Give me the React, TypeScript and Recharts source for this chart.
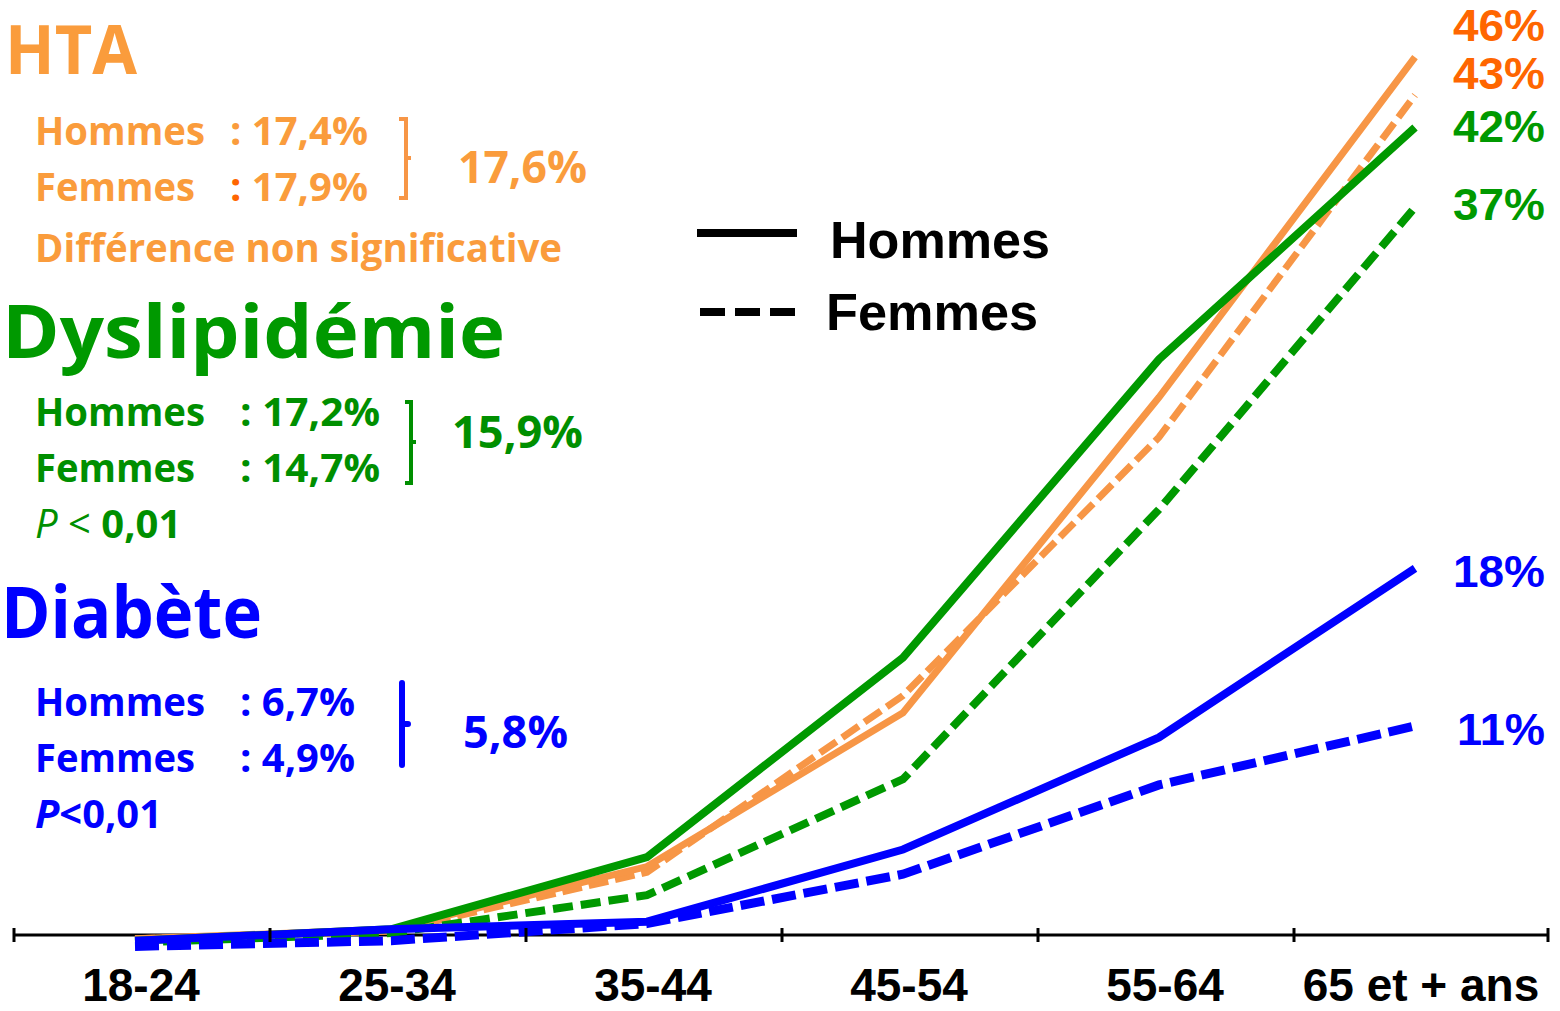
import React from "react";
import { LineChart, Line, XAxis, YAxis, ReferenceLine } from "recharts";

// age groups and prevalences
const AGES = ["18-24", "25-34", "35-44", "45-54", "55-64", "65 et + ans"];
const HTA_HOMMES = [-0.2, 0.3, 3.6, 11.7, 28.3, 46.2];
const HTA_FEMMES = [-0.2, 0.2, 3.3, 12.6, 26.2, 44.2];
const DYS_HOMMES = [-0.3, 0.3, 4.1, 14.6, 30.3, 42.5];
const DYS_FEMMES = [-0.4, 0.1, 2.1, 8.2, 22.4, 38.3];
const DIA_HOMMES = [-0.3, 0.3, 0.7, 4.5, 10.4, 19.3];
const DIA_FEMMES = [-0.6, -0.3, 0.6, 3.2, 7.9, 11.0];

const ORANGE = "#F79646";
const ORANGE_TXT = "#FA9C3C";
const ORANGE_DARK = "#FF6600";
const GREEN = "#009900";
const GREEN_TXT = "#008F00";
const BLUE = "#0000FF";

const CAL = "'Open Sans', 'Noto Sans', sans-serif";
const ARIAL = "'Liberation Sans', Arial, sans-serif";

const PAD_LEFT = 121;
const PAD_RIGHT = 133;

const data = AGES.map((age, i) => ({
  age,
  htaH: HTA_HOMMES[i],
  htaF: HTA_FEMMES[i],
  dysH: DYS_HOMMES[i],
  dysF: DYS_FEMMES[i],
  diaH: DIA_HOMMES[i],
  diaF: DIA_FEMMES[i],
}));

function AgeTick(props: any) {
  const { x, y, payload, index } = props;
  const last = index === AGES.length - 1;
  return (
    <g>
      <line x1={x - PAD_LEFT} x2={x - PAD_LEFT} y1={y - 34} y2={y - 20} stroke="#000" strokeWidth={3} />
      {last && (
        <line x1={x + PAD_RIGHT} x2={x + PAD_RIGHT} y1={y - 34} y2={y - 20} stroke="#000" strokeWidth={3} />
      )}
      <text
        x={x + 6}
        y={y + 39}
        textAnchor="middle"
        fontFamily={ARIAL}
        fontWeight="bold"
        fontSize={46}
        fill="#000"
      >
        {payload.value}
      </text>
    </g>
  );
}

function T(p: any) {
  const { x, y, len, size, color, children, weight = "bold", family = CAL, style } = p;
  return (
    <text
      x={x}
      y={y}
      fontFamily={family}
      fontWeight={weight}
      fontSize={size}
      fill={color}
      textLength={len}
      lengthAdjust={len ? "spacingAndGlyphs" : undefined}
      fontStyle={style}
    >
      {children}
    </text>
  );
}

function Notes() {
  return (
    <svg
      width={1560}
      height={1011}
      style={{ position: "absolute", left: 0, top: 0, pointerEvents: "none" }}
    >
      {/* HTA */}
      <T x={5} y={74} len={132} size={68} color={ORANGE_TXT}>HTA</T>
      <T x={35} y={145} len={170} size={40} color={ORANGE_TXT}>Hommes</T>
      <T x={230} y={145} len={138} size={40} color={ORANGE_TXT}>: 17,4%</T>
      <T x={35} y={201} len={160} size={40} color={ORANGE_TXT}>Femmes</T>
      <text x={230} y={201} fontFamily={CAL} fontWeight="bold" fontSize={40} fill={ORANGE_TXT} textLength={138} lengthAdjust="spacingAndGlyphs">
        <tspan fill={ORANGE_DARK}>:</tspan> 17,9%
      </text>
      <path d="M399 119 H406 V198 H399 M406 158 H411" stroke={ORANGE} strokeWidth={4} fill="none" />
      <T x={458} y={183} len={129} size={45} color={ORANGE_TXT}>17,6%</T>
      <T x={35} y={262} len={527} size={40} color={ORANGE_TXT}>Différence non significative</T>

      {/* Dyslipidémie */}
      <T x={2} y={358} len={503} size={74} color={GREEN}>Dyslipidémie</T>
      <T x={35} y={426} len={170} size={40} color={GREEN_TXT}>Hommes</T>
      <T x={240} y={426} len={140} size={40} color={GREEN_TXT}>: 17,2%</T>
      <T x={35} y={482} len={160} size={40} color={GREEN_TXT}>Femmes</T>
      <T x={240} y={482} len={140} size={40} color={GREEN_TXT}>: 14,7%</T>
      <path d="M405 402 H411 V483 H405 M411 442 H416" stroke={GREEN_TXT} strokeWidth={4} fill="none" />
      <T x={452} y={448} len={131} size={45} color={GREEN_TXT}>15,9%</T>
      <text x={35} y={538} fontFamily={CAL} fontSize={40} fill={GREEN_TXT}>
        <tspan fontStyle="italic">P</tspan>
        <tspan> &lt; </tspan>
        <tspan fontWeight="bold">0,01</tspan>
      </text>

      {/* Diabète */}
      <T x={1} y={638} len={261} size={72} color={BLUE}>Diabète</T>
      <T x={35} y={716} len={170} size={40} color={BLUE}>Hommes</T>
      <T x={240} y={716} len={115} size={40} color={BLUE}>: 6,7%</T>
      <T x={35} y={772} len={160} size={40} color={BLUE}>Femmes</T>
      <T x={240} y={772} len={115} size={40} color={BLUE}>: 4,9%</T>
      <path d="M402 683 V765 M402 724 H408" stroke={BLUE} strokeWidth={6} fill="none" strokeLinecap="round" />
      <T x={463} y={748} len={105} size={45} color={BLUE}>5,8%</T>
      <text x={35} y={828} fontFamily={CAL} fontWeight="bold" fontSize={40} fill={BLUE} textLength={127} lengthAdjust="spacingAndGlyphs">
        <tspan fontStyle="italic">P</tspan>&lt;0,01
      </text>

      {/* legend */}
      <line x1={697} x2={797} y1={233} y2={233} stroke="#000" strokeWidth={8} />
      <T x={830} y={258} len={220} size={52} color="#000" family={ARIAL}>Hommes</T>
      <line x1={700} x2={795} y1={312} y2={312} stroke="#000" strokeWidth={8} strokeDasharray="25 10" />
      <T x={826} y={330} len={212} size={52} color="#000" family={ARIAL}>Femmes</T>

      {/* end values */}
      <T x={1453} y={41} len={92} size={45} color={ORANGE_DARK} family={ARIAL}>46%</T>
      <T x={1453} y={89} len={92} size={45} color={ORANGE_DARK} family={ARIAL}>43%</T>
      <T x={1453} y={142} len={92} size={45} color={GREEN} family={ARIAL}>42%</T>
      <T x={1453} y={220} len={92} size={45} color={GREEN} family={ARIAL}>37%</T>
      <T x={1453} y={587} len={92} size={45} color={BLUE} family={ARIAL}>18%</T>
      <T x={1457} y={745} len={88} size={45} color={BLUE} family={ARIAL}>11%</T>
    </svg>
  );
}

export default function App() {
  return (
    <div style={{ position: "absolute", left: 0, top: 0, width: 1560, height: 1011, background: "#fff" }}>
      <LineChart
        width={1560}
        height={1011}
        data={data}
        margin={{ top: 23, right: 12, left: 14, bottom: 0 }}
      >
        <YAxis hide domain={[-1, 48]} type="number" />
        <XAxis
          dataKey="age"
          height={57}
          padding={{ left: PAD_LEFT, right: PAD_RIGHT }}
          axisLine={false}
          tickLine={false}
          interval={0}
          tick={<AgeTick />}
        />
        <ReferenceLine y={0} stroke="#000" strokeWidth={3} />
        <Line dataKey="htaF" stroke={ORANGE} strokeWidth={7} strokeDasharray="20 7" dot={false} isAnimationActive={false} />
        <Line dataKey="htaH" stroke={ORANGE} strokeWidth={7} dot={false} isAnimationActive={false} />
        <Line dataKey="dysF" stroke={GREEN} strokeWidth={8} strokeDasharray="20 8" dot={false} isAnimationActive={false} />
        <Line dataKey="dysH" stroke={GREEN} strokeWidth={8} dot={false} isAnimationActive={false} />
        <Line dataKey="diaF" stroke={BLUE} strokeWidth={9} strokeDasharray="24 8" dot={false} isAnimationActive={false} />
        <Line dataKey="diaH" stroke={BLUE} strokeWidth={8} dot={false} isAnimationActive={false} />
      </LineChart>
      <Notes />
    </div>
  );
}
